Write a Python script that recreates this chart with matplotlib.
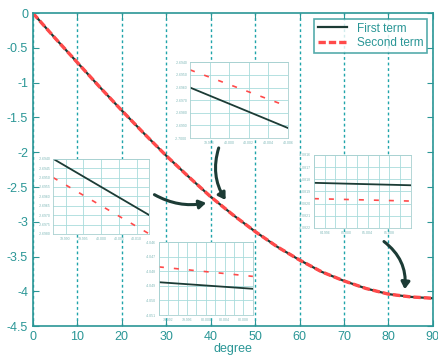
import numpy as np
import matplotlib.pyplot as plt
from matplotlib.patches import FancyArrowPatch
from matplotlib.path import Path

plt.rcParams['font.family'] = ['Liberation Sans', 'DejaVu Sans']

# main curve, every 5 degrees
deg = [0, 5, 10, 15, 20, 25, 30, 35, 40, 45, 50, 55, 60, 65, 70, 75, 80, 85, 90]
first = [0, -0.36, -0.71, -1.06, -1.40, -1.73, -2.05, -2.35, -2.64, -2.90,
         -3.14, -3.36, -3.55, -3.72, -3.85, -3.96, -4.04, -4.08, -4.10]
second = first

xticks = [0, 10, 20, 30, 40, 50, 60, 70, 80, 90]
yticks = [0, -0.5, -1, -1.5, -2, -2.5, -3, -3.5, -4, -4.5]

# zoomed insets: x ends, first term ends, second term ends, limits
ins1_x = [39.9960, 40.0060]
ins1_first = [-2.6960, -2.6992]
ins1_second = [-2.6946, -2.6975]
ins1_ylim = (-2.7000, -2.6940)

ins2_x = [39.9865, 40.0135]
ins2_first = [-2.6940, -2.6970]
ins2_second = [-2.6950, -2.6980]
ins2_ylim = (-2.6980, -2.6940)

ins3_x = [79.990, 80.010]
ins3_first = [-4.04875, -4.0492]
ins3_second = [-4.0477, -4.04835]
ins3_ylim = (-4.0510, -4.0460)

ins4_x = [84.994, 85.012]
ins4_first = [-4.08183, -4.08185]
ins4_second = [-4.08196, -4.08198]
ins4_ylim = (-4.0822, -4.0816)

teal = '#2a9696'
dark = '#1c3b35'
red = '#ff4a4a'

fig = plt.figure(figsize=(4.39, 3.56), dpi=100)
ax = fig.add_axes([0.075, 0.084, 0.911, 0.879])

ax.plot(deg, first, color=dark, lw=1.6, label='First term')
ax.plot(deg, second, color=red, lw=2.4, linestyle=(0, (2.2, 0.9)), label='Second term')

ax.set_xlim(0, 90)
ax.set_ylim(-4.5, 0)
ax.set_xticks(xticks)
ax.set_yticks(yticks)
ax.set_yticklabels(['0', '-0.5', '-1', '-1.5', '-2', '-2.5', '-3', '-3.5', '-4', '-4.5'])
ax.tick_params(colors=teal, labelsize=9, direction='in', length=4, right=True, top=True)
for s in ax.spines.values():
    s.set_color(teal)
    s.set_linewidth(1.2)
ax.grid(axis='x', color='#1fa4aa', linestyle=(0, (2, 2)), lw=1)
ax.set_xlabel('degree', color=teal, fontsize=9, labelpad=0)

leg = ax.legend(loc='upper right', fontsize=8.5, frameon=True, fancybox=False,
                edgecolor=teal, handlelength=2.5, borderpad=0.3, labelspacing=0.2)
leg.get_frame().set_linewidth(1.2)
for t in leg.get_texts():
    t.set_color(teal)


def inset(rect, xs, f, s, ylim, xt, yt, fmt_x, fmt_y, xgrid=None):
    a = fig.add_axes(rect)
    a.plot(xs, f, color=dark, lw=1.3)
    a.plot(xs, s, color=red, lw=1.2, linestyle=(0, (3, 6)))
    a.set_xlim(xs[0], xs[1])
    a.set_ylim(*ylim)
    a.set_xticks(xt)
    a.set_yticks(yt)
    a.set_xticklabels([fmt_x % v for v in xt])
    a.set_yticklabels([fmt_y % v for v in yt])
    if xgrid is not None:
        a.set_xticks(xgrid, minor=True)
        a.grid(which='minor', axis='x', color='#a8dcdc', lw=0.6)
    a.tick_params(labelsize=2.5, colors='#7fb8b8', length=0, pad=2)
    a.tick_params(which='minor', length=0)
    a.grid(color='#a8dcdc', lw=0.6)
    for sp in a.spines.values():
        sp.set_color('#a8d0d0')
        sp.set_linewidth(0.6)
    return a


inset([0.433, 0.612, 0.223, 0.213], ins1_x, ins1_first, ins1_second, ins1_ylim,
      [39.998, 40.000, 40.002, 40.004, 40.006], np.linspace(-2.700, -2.694, 7),
      '%.3f', '%.4f')
inset([0.121, 0.343, 0.219, 0.211], ins2_x, ins2_first, ins2_second, ins2_ylim,
      [39.990, 39.995, 40.000, 40.005, 40.010], np.linspace(-2.698, -2.694, 9),
      '%.3f', '%.4f')
inset([0.362, 0.115, 0.214, 0.205], ins3_x, ins3_first, ins3_second, ins3_ylim,
      [79.992, 79.996, 80.000, 80.004, 80.008], np.linspace(-4.051, -4.046, 6),
      '%.3f', '%.3f', xgrid=list(np.linspace(79.990, 80.010, 11)))
inset([0.715, 0.360, 0.221, 0.205], ins4_x, ins4_first, ins4_second, ins4_ylim,
      [84.996, 85.000, 85.004, 85.008], np.linspace(-4.0822, -4.0816, 7),
      '%.3f', '%.4f', xgrid=list(np.linspace(84.994, 85.012, 10)))

# curved arrows from the insets to the curve (data coords of the main axes)
arrow_kw = dict(arrowstyle='-|>,head_length=4,head_width=2.5', color=dark, lw=2.2,
                clip_on=False, zorder=10)
fig.add_artist(FancyArrowPatch((26.8, -2.59), (39.6, -2.72), transform=ax.transData,
                               connectionstyle='arc3,rad=0.2', **arrow_kw))
fig.add_artist(FancyArrowPatch((42.0, -1.90), (43.7, -2.72), transform=ax.transData,
                               connectionstyle='arc3,rad=0.25', **arrow_kw))
fig.add_artist(FancyArrowPatch((78.5, -3.26), (83.6, -4.01), transform=ax.transData,
                               connectionstyle='arc3,rad=-0.3', **arrow_kw))
wave = Path([(50.4, -3.95), (62.0, -3.98), (62.0, -4.40), (79.2, -4.15)],
            [Path.MOVETO, Path.CURVE4, Path.CURVE4, Path.CURVE4])
fig.add_artist(FancyArrowPatch(path=ax.transData.transform_path(wave), **arrow_kw))

fig.savefig('out.png', dpi=100)
